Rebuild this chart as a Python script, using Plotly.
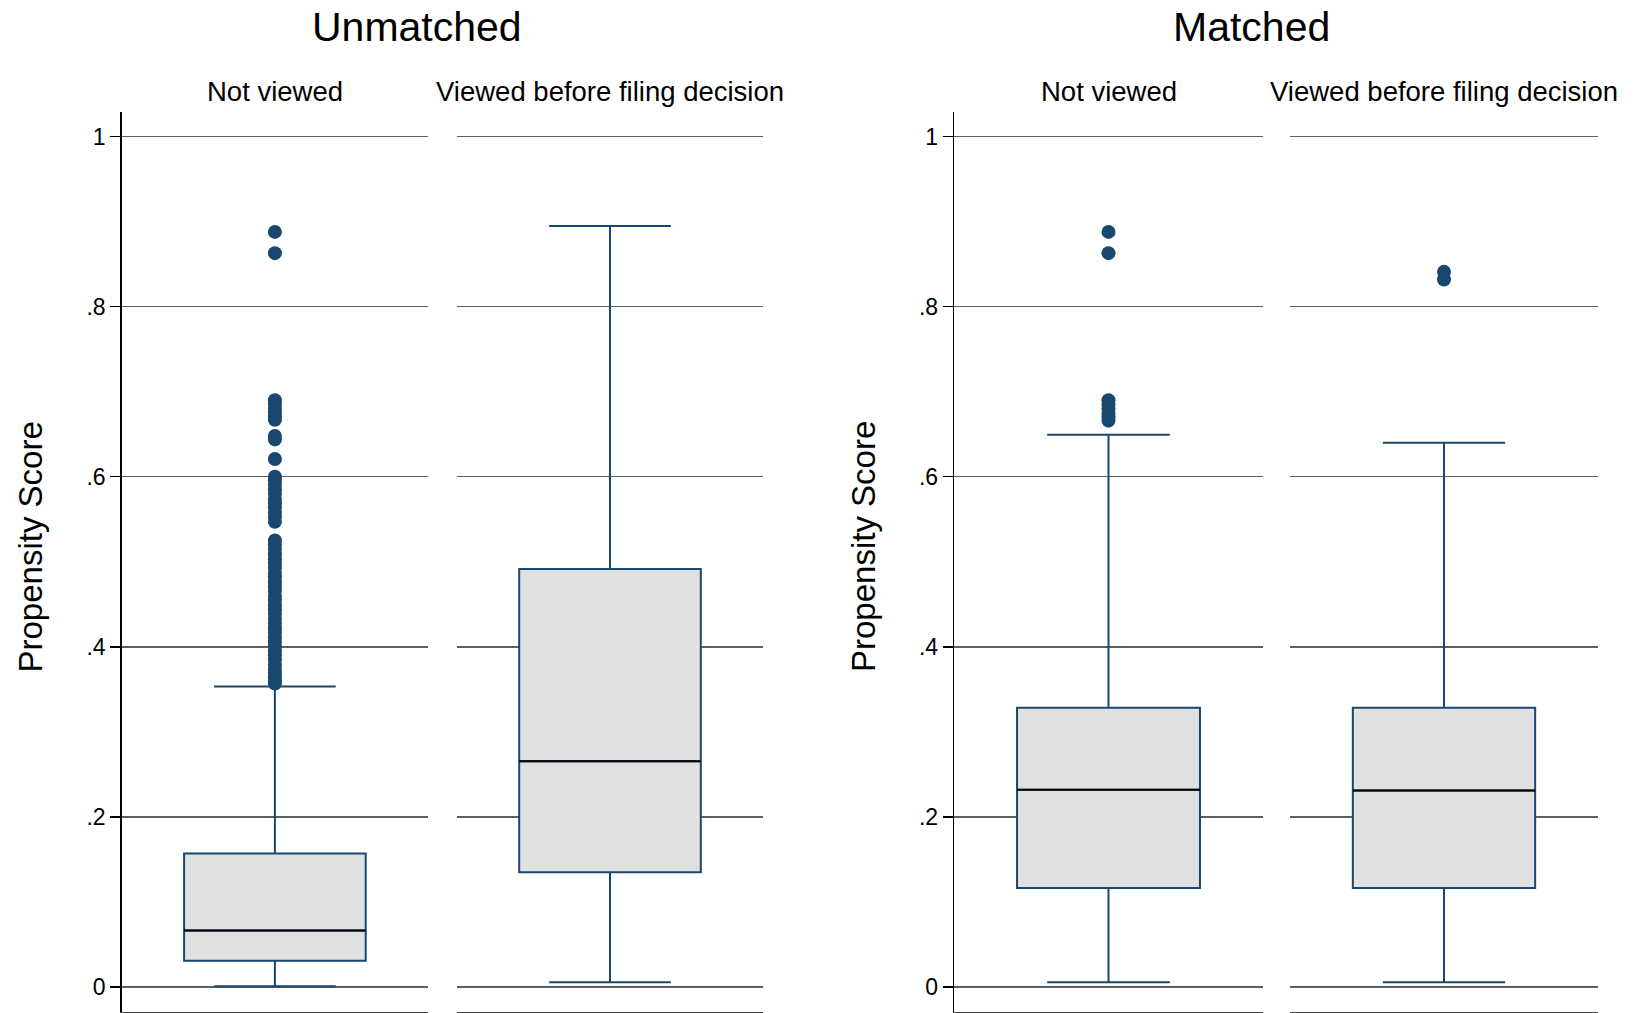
import plotly.graph_objects as go

# ---- data ----
group_titles = ["Unmatched", "Matched"]
panel_labels = ["Not viewed", "Viewed before filing decision",
                "Not viewed", "Viewed before filing decision"]
y_title = "Propensity Score"

q1 = [0.031, 0.135, 0.1165, 0.1165]
median = [0.0665, 0.2655, 0.232, 0.231]
q3 = [0.157, 0.4915, 0.3284, 0.3284]
lowerfence = [0.0008, 0.0055, 0.0055, 0.0055]
upperfence = [0.3535, 0.895, 0.6495, 0.640]

outliers_p1 = [0.888, 0.863,
               0.690, 0.686, 0.681, 0.676, 0.671, 0.667,
               0.648, 0.644, 0.621,
               0.600, 0.596, 0.591, 0.585, 0.580, 0.574, 0.569, 0.564,
               0.558, 0.553, 0.547,
               0.525, 0.520, 0.515, 0.509, 0.503, 0.498, 0.493, 0.487,
               0.482, 0.476, 0.471, 0.466, 0.460, 0.455, 0.449, 0.444,
               0.439, 0.433, 0.428, 0.422, 0.417, 0.411, 0.406, 0.401,
               0.395, 0.390, 0.385, 0.379, 0.374, 0.369, 0.364, 0.360, 0.357]
outliers_p2 = []
outliers_p3 = [0.888, 0.863, 0.690, 0.685, 0.680, 0.675, 0.670, 0.666]
outliers_p4 = [0.841, 0.832]
outliers = [outliers_p1, outliers_p2, outliers_p3, outliers_p4]

tick_vals = [0, 0.2, 0.4, 0.6, 0.8, 1]
tick_text = ["0", ".2", ".4", ".6", ".8", "1"]

# ---- style ----
NAVY = "#1a476f"
FILL = "#e0e0e0"
GRID = "#5f5f5f"
FONT = "Liberation Sans, Arial, Helvetica, sans-serif"
W, H = 1642, 1013

# panel pixel extents (x) and plot area (y)
px = [(121.5, 428.3), (456.6, 763.4), (954.0, 1263.0), (1290.0, 1598.0)]
y_top, y_bot = 112, 1012
ydom = [(H - y_bot) / H, (H - y_top) / H]
yrange = [-0.0294, 1.029]

fig = go.Figure()
for i in range(4):
    xa = "x" if i == 0 else f"x{i+1}"
    ya = "y" if i == 0 else f"y{i+1}"
    fig.add_trace(go.Box(
        x=[0], q1=[q1[i]], median=[median[i]], q3=[q3[i]],
        lowerfence=[lowerfence[i]], upperfence=[upperfence[i]],
        width=0.592, whiskerwidth=0.67,
        fillcolor=FILL, line=dict(color=NAVY, width=2),
        boxpoints=False, showlegend=False, xaxis=xa, yaxis=ya,
        hoverinfo="skip"))
    # black median line overlay
    fig.add_trace(go.Box(
        x=[0], q1=[median[i]], median=[median[i]], q3=[median[i]],
        lowerfence=[median[i]], upperfence=[median[i]],
        width=0.592, whiskerwidth=0.0,
        fillcolor="rgba(0,0,0,0)", line=dict(color="black", width=2),
        boxpoints=False, showlegend=False, xaxis=xa, yaxis=ya,
        hoverinfo="skip"))
    if outliers[i]:
        fig.add_trace(go.Scatter(
            x=[0] * len(outliers[i]), y=outliers[i], mode="markers",
            marker=dict(color=NAVY, size=14, line=dict(width=0)),
            showlegend=False, xaxis=xa, yaxis=ya, hoverinfo="skip"))

layout = dict(
    width=W, height=H, autosize=False,
    margin=dict(l=0, r=0, t=0, b=0),
    paper_bgcolor="white", plot_bgcolor="white",
    font=dict(family=FONT, color="black"),
    boxmode="overlay",
)
for i in range(4):
    xkey = "xaxis" if i == 0 else f"xaxis{i+1}"
    ykey = "yaxis" if i == 0 else f"yaxis{i+1}"
    xref = "x" if i == 0 else f"x{i+1}"
    first = (i % 2 == 0)
    layout[xkey] = dict(
        domain=[px[i][0] / W, px[i][1] / W], range=[-0.5, 0.5],
        showgrid=False, zeroline=False, showticklabels=False, ticks="",
        showline=True, linecolor="#444444", linewidth=1.3,
        anchor="y" if i == 0 else f"y{i+1}", fixedrange=True)
    yd = dict(
        domain=ydom, range=yrange, anchor=xref,
        tickvals=tick_vals, ticktext=tick_text,
        showgrid=True, gridcolor=GRID, gridwidth=1.3,
        zeroline=True, zerolinecolor=GRID, zerolinewidth=1.3,
        fixedrange=True)
    if first:
        yd.update(showline=True, linecolor="black", linewidth=1.3,
                  ticks="outside", ticklen=10, tickcolor="black", tickwidth=1.3,
                  tickfont=dict(size=23, family=FONT))
    else:
        yd.update(showline=False, showticklabels=False, ticks="")
    layout[ykey] = yd

annotations = []
title_x = [417, 1251]
ytitle_x = [29.5, 863]
for g in range(2):
    annotations.append(dict(
        text=group_titles[g], x=title_x[g] / W, y=(H - 27) / H,
        xref="paper", yref="paper", xanchor="center", yanchor="middle",
        showarrow=False, font=dict(size=41, family=FONT, color="black")))
    annotations.append(dict(
        text=y_title, x=ytitle_x[g] / W, y=(H - 547) / H, textangle=-90,
        xref="paper", yref="paper", xanchor="center", yanchor="middle",
        showarrow=False, font=dict(size=33, family=FONT, color="black")))
for i in range(4):
    dref = "x domain" if i == 0 else f"x{i+1} domain"
    annotations.append(dict(
        text=panel_labels[i], x=0.5, y=(H - 91) / H,
        xref=dref, yref="paper", xanchor="center", yanchor="middle",
        showarrow=False, font=dict(size=27.5, family=FONT, color="black")))
layout["annotations"] = annotations

fig.update_layout(**layout)
fig.write_html("out.html",
               config={"displayModeBar": False, "staticPlot": True},
               post_script="document.body.style.margin='0px';")
